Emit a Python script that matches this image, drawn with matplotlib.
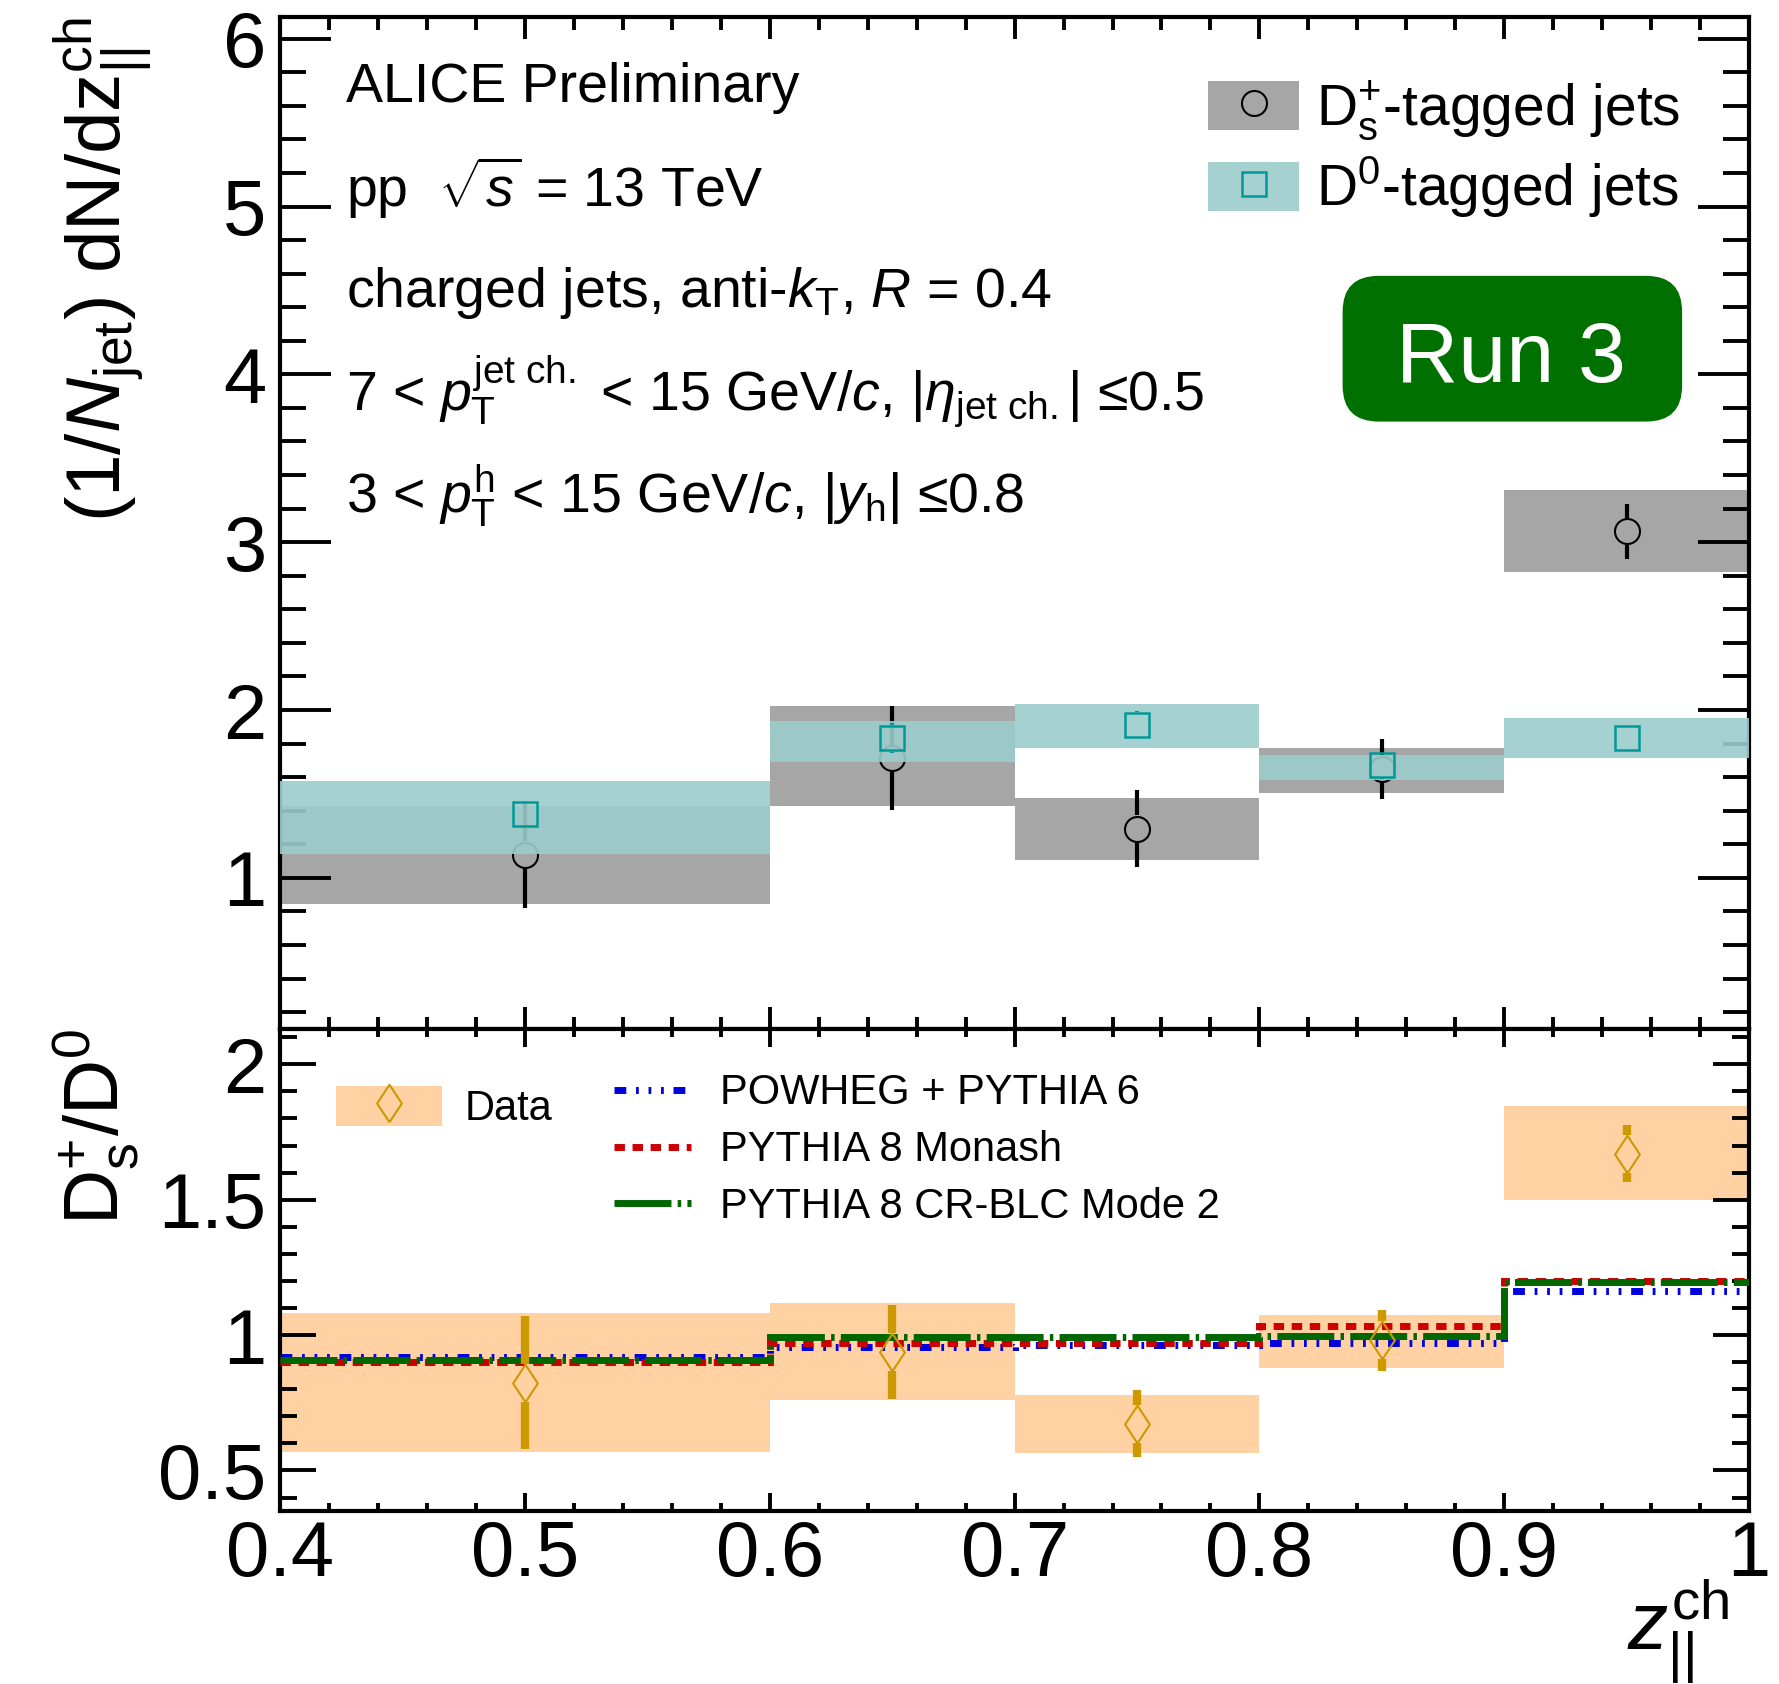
import numpy as np
import matplotlib.pyplot as plt
from matplotlib.patches import Patch, FancyBboxPatch
from matplotlib.lines import Line2D
from matplotlib.legend_handler import HandlerTuple
from matplotlib.ticker import MultipleLocator, FuncFormatter

plt.rcParams['font.family'] = ['Liberation Sans', 'DejaVu Sans']
plt.rcParams['mathtext.fontset'] = 'custom'
plt.rcParams['mathtext.rm'] = 'Liberation Sans'
plt.rcParams['mathtext.it'] = 'Liberation Sans:italic'
plt.rcParams['mathtext.bf'] = 'Liberation Sans:bold'

# ---- z_parallel binning ----
z_edges = np.array([0.4, 0.6, 0.7, 0.8, 0.9, 1.0])
z_centres = np.array([0.5, 0.65, 0.75, 0.85, 0.95])

# ---- Ds+-tagged jets: value, stat. error, syst. box edges ----
ds_val = np.array([1.139, 1.714, 1.292, 1.649, 3.065])
ds_stat = np.array([0.32, 0.31, 0.23, 0.18, 0.165])
ds_sys_lo = np.array([0.843, 1.427, 1.107, 1.504, 2.820])
ds_sys_hi = np.array([1.430, 2.022, 1.474, 1.772, 3.310])

# ---- D0-tagged jets ----
d0_val = np.array([1.381, 1.831, 1.910, 1.673, 1.831])
d0_stat = np.array([0.06, 0.09, 0.083, 0.085, 0.06])
d0_sys_lo = np.array([1.143, 1.692, 1.776, 1.585, 1.712])
d0_sys_hi = np.array([1.576, 1.932, 2.034, 1.732, 1.950])

# ---- Ds+/D0 ratio ----
ratio_val = np.array([0.824, 0.937, 0.673, 0.980, 1.670])
ratio_stat = np.array([0.245, 0.175, 0.123, 0.112, 0.104])
ratio_sys_lo = np.array([0.568, 0.761, 0.565, 0.878, 1.498])
ratio_sys_hi = np.array([1.080, 1.117, 0.777, 1.075, 1.845])

# ---- model predictions for the ratio ----
powheg_py6 = np.array([0.919, 0.956, 0.964, 0.972, 1.163])
py8_monash = np.array([0.900, 0.972, 0.972, 1.033, 1.200])
py8_crblc = np.array([0.909, 0.993, 0.992, 0.996, 1.197])

# colours
c_gray = '#a6a6a6'
c_tealbox = '#9bcccc'
c_teal = '#009999'
c_orange = '#ffd1a3'
c_gold = '#cc9900'
c_blue = '#0000dd'
c_red = '#cc0000'
c_green = '#006600'

ls_powheg = (0, (1.7, 1.4, 0.4, 1.4, 0.4, 1.4, 0.4, 1.4))
ls_monash = (0, (1.5, 1.1))
ls_crblc = (0, (8.2, 0.9, 0.5, 0.9))
model_lw = 5

diamond = [(0, -0.5), (0.33, 0), (0, 0.5), (-0.33, 0), (0, -0.5)]
overlay = {tuple: HandlerTuple(ndivide=1, pad=0)}

fig = plt.figure(figsize=(17.79, 16.84), dpi=100)
ax = fig.add_axes([0.1574, 0.3890, 0.8258, 0.6010])
axr = fig.add_axes([0.1574, 0.1027, 0.8258, 0.2862], sharex=ax)


def err_segments(axis, x, y, err, half_px, **kw):
    # error bars that stop at the edge of a hollow marker
    p0 = axis.transData.transform((0, 0))[1]
    p1 = axis.transData.transform((0, 1))[1]
    gap = half_px / (p1 - p0)
    for xi, yi, ei in zip(x, y, err):
        if ei > gap:
            axis.vlines([xi, xi], [yi - ei, yi + gap], [yi - gap, yi + ei], **kw)


def style_axis(axis, ymaj, ymin, ylen, xlen):
    axis.set_xlim(0.4, 1.0)
    axis.xaxis.set_major_locator(MultipleLocator(0.1))
    axis.xaxis.set_minor_locator(MultipleLocator(0.02))
    axis.yaxis.set_major_locator(MultipleLocator(ymaj))
    axis.yaxis.set_minor_locator(MultipleLocator(ymin))
    axis.tick_params(which='both', direction='in', top=True, right=True,
                     width=2.8, labelsize=56)
    axis.tick_params(axis='y', which='major', length=ylen[0], pad=10)
    axis.tick_params(axis='y', which='minor', length=ylen[1])
    axis.tick_params(axis='x', which='major', length=xlen[0], pad=6)
    axis.tick_params(axis='x', which='minor', length=xlen[1])
    for sp in axis.spines.values():
        sp.set_linewidth(3)
    fmt = FuncFormatter(lambda v, p: f'{v:g}')
    axis.xaxis.set_major_formatter(fmt)
    axis.yaxis.set_major_formatter(fmt)


# ---------------- upper panel: z distributions ----------------
ax.set_ylim(0.1, 6.13)
style_axis(ax, 1, 0.2, (37, 19), (16, 9))
ax.tick_params(axis='x', labelbottom=False)

widths = np.diff(z_edges)
ax.bar(z_edges[:-1], ds_sys_hi - ds_sys_lo, width=widths, bottom=ds_sys_lo,
       align='edge', color=c_gray, linewidth=0, zorder=1)
err_segments(ax, z_centres, ds_val, ds_stat, 13.5, colors='k', lw=3, zorder=2)
ax.plot(z_centres, ds_val, ls='none', marker='o', ms=18, mfc='none', mec='k',
        mew=1.5, zorder=2)

ax.bar(z_edges[:-1], d0_sys_hi - d0_sys_lo, width=widths, bottom=d0_sys_lo,
       align='edge', color=c_tealbox, alpha=0.9, linewidth=0, zorder=3)
err_segments(ax, z_centres, d0_val, d0_stat, 13.5, colors=c_teal, lw=3, zorder=4)
ax.plot(z_centres, d0_val, ls='none', marker='s', ms=17, mfc='none', mec=c_teal,
        mew=1.8, zorder=4)

ax.set_ylabel(r'(1/$N_{\mathrm{jet}}$) dN/dz$_{\mathrm{||}}^{\mathrm{ch}}$',
              fontsize=55, loc='top')
ax.yaxis.set_label_coords(-0.085, 1.0)

info = ['ALICE Preliminary',
        r'pp  $\sqrt{s}$ = 13 TeV',
        r'charged jets, anti-$k_{\mathrm{T}}$, $R$ = 0.4',
        r'7 < $p_{\mathrm{T}}^{\mathrm{jet\ ch.}}$ < 15 GeV/$c$, $|\eta_{\mathrm{jet\ ch.}}|$ ≤0.5',
        r'3 < $p_{\mathrm{T}}^{\mathrm{h}}$ < 15 GeV/$c$, $|y_{\mathrm{h}}|$ ≤0.8']
info_y = [0.916, 0.812, 0.713, 0.611, 0.510]
for txt, yy in zip(info, info_y):
    ax.text(0.045, yy, txt, transform=ax.transAxes, fontsize=40,
            ha='left', va='baseline', zorder=6)

top_handles = [
    (Patch(fc=c_gray, ec='none'),
     Line2D([], [], ls='none', marker='o', ms=18, mfc='none', mec='k', mew=1.5)),
    (Patch(fc=c_tealbox, alpha=0.9, ec='none'),
     Line2D([], [], ls='none', marker='s', ms=17, mfc='none', mec=c_teal, mew=1.8)),
]
ax.legend(top_handles,
          [r'D$_{\mathrm{s}}^{+}$-tagged jets', r'D$^{0}$-tagged jets'],
          handler_map=overlay,
          loc='upper left', bbox_to_anchor=(0.6317, 0.939), frameon=False,
          fontsize=41, handlelength=1.6, handleheight=0.96,
          handletextpad=0.3, labelspacing=0.2, borderpad=0, borderaxespad=0)

# "Run 3" badge
ax_w = ax.bbox.width
ax_h = ax.bbox.height
badge = FancyBboxPatch((0.7233, 0.6001), 0.2311, 0.1440,
                       boxstyle='round,pad=0,rounding_size=0.0245',
                       mutation_aspect=ax_w / ax_h, transform=ax.transAxes,
                       fc='#007000', ec='none', zorder=6)
ax.add_patch(badge)
ax.text(0.838, 0.6396, 'Run 3', transform=ax.transAxes, fontsize=62,
        color='white', ha='center', va='baseline', zorder=7)

# ---------------- lower panel: ratio ----------------
axr.set_ylim(0.35, 2.13)
style_axis(axr, 0.5, 0.1, (26, 12), (13, 5.5))

axr.bar(z_edges[:-1], ratio_sys_hi - ratio_sys_lo, width=widths,
        bottom=ratio_sys_lo, align='edge', color=c_orange, linewidth=0, zorder=1)
axr.stairs(powheg_py6, z_edges, baseline=None, color=c_blue, lw=model_lw,
           linestyle=ls_powheg, zorder=2)
axr.stairs(py8_monash, z_edges, baseline=None, color=c_red, lw=model_lw,
           linestyle=ls_monash, zorder=3)
axr.stairs(py8_crblc, z_edges, baseline=None, color=c_green, lw=model_lw,
           linestyle=ls_crblc, zorder=4)
err_segments(axr, z_centres, ratio_val, ratio_stat, 19, colors=c_gold, lw=6, zorder=5)
axr.plot(z_centres, ratio_val, ls='none', marker=diamond, ms=27, mfc='none',
         mec=c_gold, mew=1.5, zorder=5)

axr.set_ylabel(r'D$_{\mathrm{s}}^{+}$/D$^{0}$', fontsize=55, loc='top')
axr.yaxis.set_label_coords(-0.094, 1.0)
axr.set_xlabel(r'$z_{\mathrm{||}}^{\mathrm{ch}}$', fontsize=58, loc='right')
axr.xaxis.set_label_coords(0.986, -0.135)

data_handle = (Patch(fc=c_orange, ec='none'),
               Line2D([], [], ls='none', marker=diamond, ms=27, mfc='none',
                      mec=c_gold, mew=1.5))
leg_data = axr.legend([data_handle], ['Data'], handler_map=overlay,
                      loc='upper left', bbox_to_anchor=(0.0381, 0.8817),
                      frameon=False, fontsize=30, handlelength=2.54,
                      handleheight=1.08, handletextpad=0.55, borderpad=0,
                      borderaxespad=0)
axr.add_artist(leg_data)

model_handles = [
    Line2D([], [], color=c_blue, lw=model_lw, ls=ls_powheg),
    Line2D([], [], color=c_red, lw=model_lw, ls=ls_monash),
    Line2D([], [], color=c_green, lw=model_lw, ls=ls_crblc),
]
axr.legend(model_handles,
           ['POWHEG + PYTHIA 6', 'PYTHIA 8 Monash', 'PYTHIA 8 CR-BLC Mode 2'],
           loc='upper left', bbox_to_anchor=(0.2274, 0.908), frameon=False,
           fontsize=30, handlelength=1.85, handletextpad=0.7,
           labelspacing=0.4, borderpad=0, borderaxespad=0)

fig.savefig('out.png', dpi=100)
